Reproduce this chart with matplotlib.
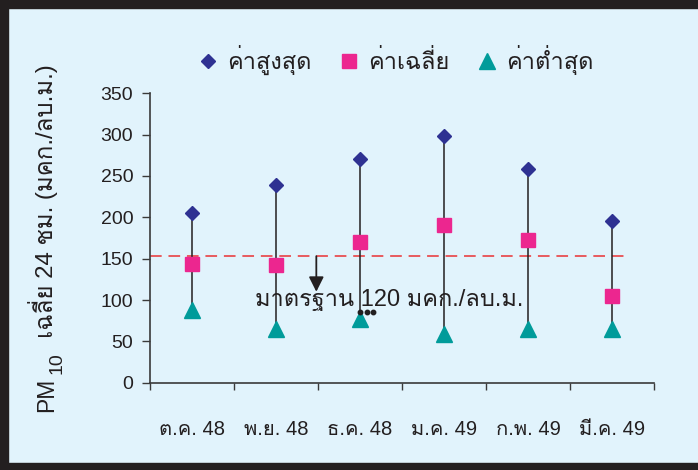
import matplotlib
matplotlib.use("Agg")
import matplotlib.pyplot as plt
from matplotlib.patches import Rectangle

# Monthly PM10 (24-hour average), micrograms per cubic metre
months = ["ต.ค. 48", "พ.ย. 48", "ธ.ค. 48", "ม.ค. 49", "ก.พ. 49", "มี.ค. 49"]
pm_max = [205, 239, 271, 298, 258, 196]
pm_mean = [144, 142, 170, 191, 173, 105]
pm_min = [88, 65, 77, 59, 65, 65]
standard_line = 153
series_names = ["ค่าสูงสุด", "ค่าเฉลี่ย", "ค่าต่ำสุด"]
standard_text = "มาตรฐาน 120 มคก./ลบ.ม."
ylabel_text = "เฉลี่ย 24 ชม. (มคก./ลบ.ม.)"

THAI = ["Liberation Sans", "Loma", "Noto Sans Thai Looped", "DejaVu Sans"]
plt.rcParams["font.family"] = THAI

BG = "#E1F3FC"
FRAME = "#231F20"
AXC = "#3A3A3A"

W, H = 698, 470
fig = plt.figure(figsize=(W / 100, H / 100), dpi=100, facecolor=BG)


def fx(px):
    return px / W


def fy(py):
    # pixel row measured from the top edge
    return 1 - py / H


# dark frame on top, left and bottom edges
for (x0, y0, w, h) in [(0, H - 8, W, 8), (0, 0, 8, H), (0, 0, W, 7)]:
    fig.patches.append(Rectangle((x0 / W, y0 / H), w / W, h / H,
                                 transform=fig.transFigure, color=FRAME, zorder=10))

ax = fig.add_axes([fx(150), fy(382.7), 504 / W, 289.4 / H])
ax.set_facecolor(BG)
ax.patch.set_alpha(0)

n = len(months)
xs = [i + 0.5 for i in range(n)]

# stems from minimum to maximum
ax.vlines(xs, pm_min, pm_max, color=FRAME, lw=1.1, zorder=2)

h1, = ax.plot(xs, pm_max, "D", ms=7.6, color="#2E3192", mec="#2E3192", ls="none", zorder=3)
h2, = ax.plot(xs, pm_mean, "s", ms=10, color="#EC268F", mec="#EC268F", ls="none", zorder=3)
h3, = ax.plot(xs, pm_min, "^", ms=11, color="#009B9A", mec="#009B9A", ls="none", zorder=3)

# standard reference line
ax.plot([0, 5.69], [standard_line, standard_line], color="#E85A5E", lw=1.4,
        dashes=(6, 3.5), zorder=1, clip_on=False)
ax.annotate("", xy=(1.98, 110), xytext=(1.98, standard_line),
            arrowprops=dict(arrowstyle="-|>,head_length=0.9,head_width=0.45",
                            color=FRAME, lw=1.3, shrinkA=0, shrinkB=0), zorder=4)
ax.text(1.25, 100, standard_text, fontsize=17, color=FRAME, va="center", ha="left", zorder=4)
ax.plot([2.5, 2.58, 2.66], [86, 86, 86], "o", ms=3.2, color=FRAME, zorder=4)

ax.set_xlim(0, n)
ax.set_ylim(0, 350)
ax.set_yticks(range(0, 351, 50))
ax.tick_params(axis="y", direction="out", length=6, width=1, color=AXC,
               labelsize=14, pad=6, labelcolor=FRAME)
ax.set_xticks(range(0, n + 1))
ax.set_xticklabels([])
ax.tick_params(axis="x", which="major", direction="out", length=5, width=1, color=AXC)
ax.set_xticks(xs, minor=True)
ax.set_xticklabels(months, minor=True)
ax.tick_params(axis="x", which="minor", length=0, labelsize=14.5, pad=27, labelcolor=FRAME)

for s in ["top", "right"]:
    ax.spines[s].set_visible(False)
for s in ["left", "bottom"]:
    ax.spines[s].set_color(AXC)
    ax.spines[s].set_linewidth(1.2)

# axis title, written upwards: "PM", subscript "10", then the Thai description
title_kw = dict(rotation=90, rotation_mode="anchor", ha="left", va="baseline", color=FRAME)
fig.text(fx(53), fy(412), "PM", fontsize=16.5, family="Liberation Sans", **title_kw)
fig.text(fx(61.5), fy(374), "10", fontsize=14, family="Liberation Sans", **title_kw)
fig.text(fx(52.5), fy(338), ylabel_text, fontsize=17.3, **title_kw)

fig.legend([h1, h2, h3], series_names, loc="center", ncol=3, frameon=False,
           bbox_to_anchor=(fx(395), fy(60)), fontsize=17,
           handlelength=1.0, handletextpad=0.3, columnspacing=1.1,
           labelcolor=FRAME)

fig.savefig("out.png", dpi=100, facecolor=BG)
